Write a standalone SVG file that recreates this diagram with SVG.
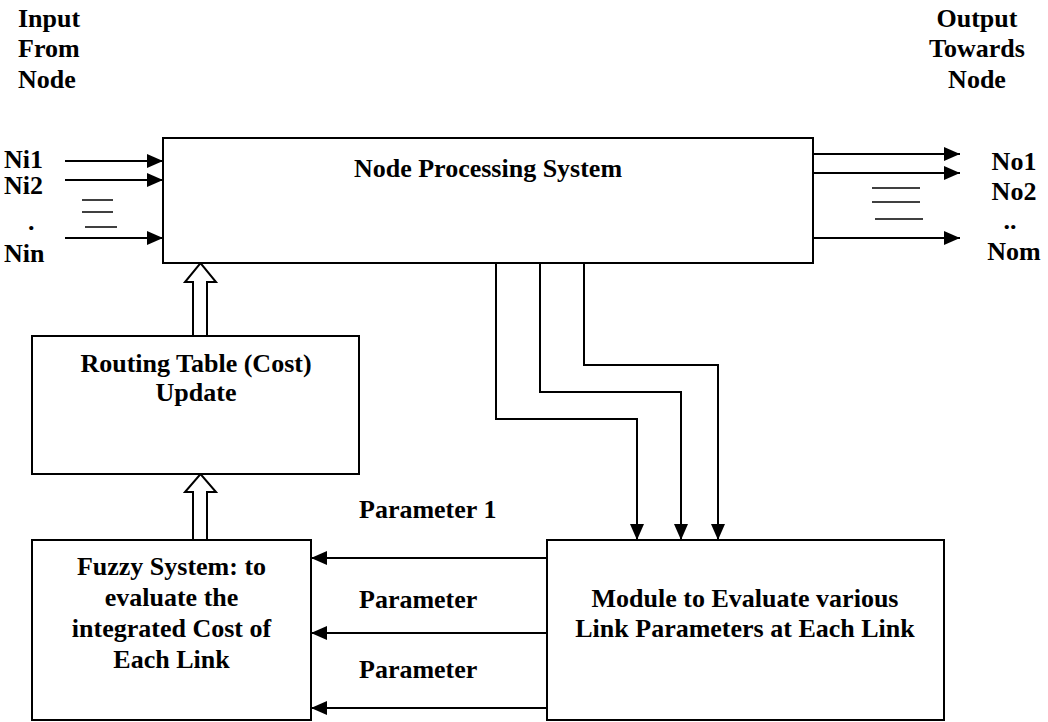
<svg xmlns="http://www.w3.org/2000/svg" width="1048" height="722" viewBox="0 0 1048 722">
<style>
text{font-family:"Liberation Serif","Times New Roman",serif;font-weight:bold;font-size:26px;fill:#000}
.box{fill:#fff;stroke:#000;stroke-width:2}
.c{fill:none;stroke:#000;stroke-width:2}
.thin{fill:none;stroke:#000;stroke-width:1.5}
.hollow{fill:#fff;stroke:#000;stroke-width:2;stroke-linejoin:miter}
.m{text-anchor:middle}
</style>
<defs>
<marker id="ah" markerUnits="userSpaceOnUse" markerWidth="16" markerHeight="14" refX="16" refY="7" orient="auto">
<path d="M0,0 L16,7 L0,14 z" fill="#000"/>
</marker>
</defs>
<rect width="1048" height="722" fill="#fff"/>

<g id="labels-left">
<text x="18" y="27">Input</text>
<text x="18" y="57">From</text>
<text x="18" y="88">Node</text>
<text x="4" y="168">Ni1</text>
<text x="4" y="194">Ni2</text>
<text x="28" y="230">.</text>
<text x="4" y="262">Nin</text>
</g>
<g id="labels-right">
<text class="m" x="977" y="27">Output</text>
<text class="m" x="977" y="57">Towards</text>
<text class="m" x="977" y="88">Node</text>
<text class="m" x="1014" y="170">No1</text>
<text class="m" x="1014" y="200">No2</text>
<text class="m" x="1010" y="229">..</text>
<text class="m" x="1014" y="260">Nom</text>
</g>

<g id="connectors">
<line class="c" x1="65" y1="161" x2="163" y2="161" marker-end="url(#ah)"/>
<line class="c" x1="65" y1="180" x2="163" y2="180" marker-end="url(#ah)"/>
<line class="c" x1="65" y1="238" x2="163" y2="238" marker-end="url(#ah)"/>
<line class="thin" x1="82" y1="200" x2="113" y2="200"/>
<line class="thin" x1="82" y1="212" x2="113" y2="212"/>
<line class="thin" x1="85" y1="227" x2="117" y2="227"/>
<line class="c" x1="813" y1="154" x2="960" y2="154" marker-end="url(#ah)"/>
<line class="c" x1="813" y1="173" x2="960" y2="173" marker-end="url(#ah)"/>
<line class="c" x1="813" y1="238" x2="960" y2="238" marker-end="url(#ah)"/>
<line class="thin" x1="872" y1="188" x2="920" y2="188"/>
<line class="thin" x1="872" y1="202" x2="920" y2="202"/>
<line class="thin" x1="875" y1="219" x2="923" y2="219"/>
<path class="c" d="M496,263 V419 H637 V540" marker-end="url(#ah)"/>
<path class="c" d="M540,263 V392 H681 V540" marker-end="url(#ah)"/>
<path class="c" d="M584,263 V365 H718 V540" marker-end="url(#ah)"/>
<line class="c" x1="547" y1="558" x2="311" y2="558" marker-end="url(#ah)"/>
<line class="c" x1="547" y1="633" x2="311" y2="633" marker-end="url(#ah)"/>
<line class="c" x1="547" y1="708" x2="311" y2="708" marker-end="url(#ah)"/>
<polygon class="hollow" points="193,336 193,282 185,282 200.5,263 216,282 207,282 207,336"/>
<polygon class="hollow" points="193,540 193,492 185,492 200.5,474 216,492 207,492 207,540"/>
</g>

<g id="param-labels">
<text x="359" y="518">Parameter 1</text>
<text x="359" y="608">Parameter</text>
<text x="359" y="678">Parameter</text>
</g>

<g id="node-processing">
<rect class="box" x="163" y="138" width="650" height="125"/>
<text class="m" x="488" y="177">Node Processing System</text>
</g>

<g id="routing-table">
<rect class="box" x="32" y="336" width="327" height="138"/>
<text class="m" x="196" y="372">Routing Table (Cost)</text>
<text class="m" x="196" y="401">Update</text>
</g>

<g id="fuzzy-system">
<rect class="box" x="32" y="540" width="279" height="180"/>
<text class="m" x="171.5" y="575">Fuzzy System: to</text>
<text class="m" x="171.5" y="606">evaluate the</text>
<text class="m" x="171.5" y="637">integrated Cost of</text>
<text class="m" x="171.5" y="668">Each Link</text>
</g>

<g id="module">
<rect class="box" x="547" y="540" width="397" height="180"/>
<text class="m" x="745" y="607">Module to Evaluate various</text>
<text class="m" x="745" y="637">Link Parameters at Each Link</text>
</g>
</svg>
